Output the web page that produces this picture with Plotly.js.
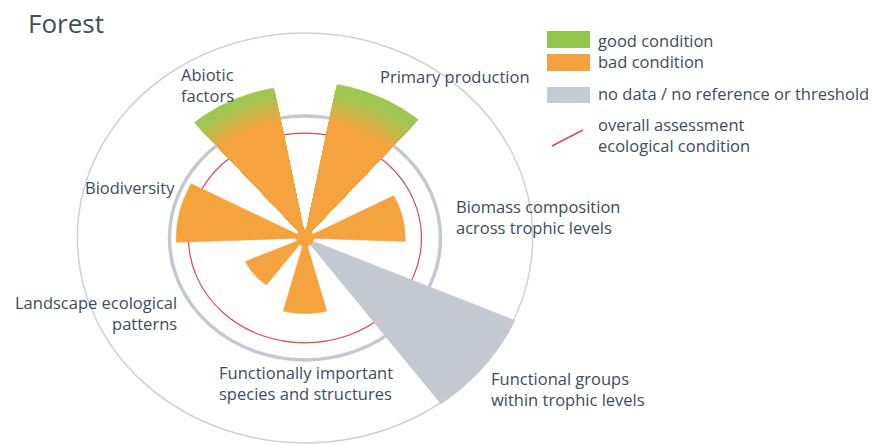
<!DOCTYPE html>
<html><head><meta charset="utf-8">
<script src="https://cdn.plot.ly/plotly-3.0.1.min.js"></script>
<style>html,body{margin:0;padding:0;background:#fff}#chart{width:872px;height:445px}</style>
</head><body><div id="chart"></div>
<script>
// ---- data ----
const categories = [
  'Functionally important\nspecies and structures',
  'Functional groups\nwithin trophic levels',
  'Biomass composition\nacross trophic levels',
  'Primary production',
  'Abiotic\nfactors',
  'Biodiversity',
  'Landscape ecological\npatterns'
];
const values = [0.62, 1.69, 0.74, 1.28, 1.25, 0.95, 0.48];
const conditions = ['bad', 'nodata', 'bad', 'good', 'good', 'bad', 'bad'];
const threshold = 1.0;
const overallAssessment = 0.86;
const outerScale = 1.68;
const legendLabels = ['good condition', 'bad condition', 'no data / no reference or threshold', 'overall assessment\necological condition'];
const chartTitle = 'Forest';

// ---- layout / style ----
const W = 872, H = 445, CX = 305, CY = 238, SX = 135.5, SY = 122;
const STEP = 360 / categories.length, START = 270, WIDTH = 30;
const ORANGE = [245, 163, 62], GREEN = [160, 198, 82], GRAY = '#c3c9d1';
const TXT = '#3e4d5a';
const FONT = 'Open Sans, sans-serif';
const rgb = c => `rgb(${c.map(Math.round).join(',')})`;
const lerp = (a, b, t) => a.map((v, i) => v + (b[i] - v) * t);

function wedge(k, r, color) {
  const c = START + k * STEP;
  const a0 = (c - WIDTH / 2) * Math.PI / 180, a1 = (c + WIDTH / 2) * Math.PI / 180;
  const xs = [0], ys = [0];
  for (let i = 0; i <= 40; i++) {
    const a = a0 + (a1 - a0) * i / 40;
    xs.push(r * Math.cos(a)); ys.push(r * Math.sin(a));
  }
  xs.push(0); ys.push(0);
  return {type: 'scatter', mode: 'lines', x: xs, y: ys, fill: 'toself', fillcolor: color,
    line: {width: 0.6, color: color}, hoverinfo: 'skip', showlegend: false};
}

const traces = [];
const G0 = 0.97, G1 = 1.2, NB = 24;
values.forEach((v, k) => {
  const cond = conditions[k];
  if (cond === 'nodata') { traces.push(wedge(k, v, GRAY)); return; }
  if (cond === 'good') {
    for (let j = 0; j <= NB; j++) {
      const r = v - j * (v - G0) / NB;
      const t = Math.max(0, Math.min(1, (r - G0) / (G1 - G0)));
      traces.push(wedge(k, r, rgb(lerp(ORANGE, GREEN, t))));
    }
    return;
  }
  traces.push(wedge(k, v, rgb(ORANGE)));
});

const px = x => x / W, py = y => 1 - y / H;
const shapes = [
  {type: 'circle', xref: 'x', yref: 'y', x0: -outerScale, x1: outerScale, y0: -outerScale, y1: outerScale, line: {color: '#cdd2da', width: 1.5}, layer: 'below'},
  {type: 'circle', xref: 'x', yref: 'y', x0: -threshold, x1: threshold, y0: -threshold, y1: threshold, line: {color: '#c3c9d2', width: 3.5}, layer: 'below'},
  {type: 'circle', xref: 'x', yref: 'y', x0: -overallAssessment, x1: overallAssessment, y0: -overallAssessment, y1: overallAssessment, line: {color: '#e64552', width: 1.2}, layer: 'below'},
  {type: 'circle', xref: 'x', yref: 'y', x0: -9 / SX, x1: 9 / SX, y0: -9 / SY, y1: 9 / SY, fillcolor: rgb(ORANGE), line: {width: 0}, layer: 'above'},
  // legend swatches
  {type: 'rect', xref: 'paper', yref: 'paper', x0: px(547), x1: px(590), y0: py(48), y1: py(31), fillcolor: '#93c84c', line: {width: 0}},
  {type: 'rect', xref: 'paper', yref: 'paper', x0: px(547), x1: px(590), y0: py(71), y1: py(54), fillcolor: '#f4a240', line: {width: 0}},
  {type: 'rect', xref: 'paper', yref: 'paper', x0: px(547), x1: px(590), y0: py(103), y1: py(87), fillcolor: '#c5cbd3', line: {width: 0}},
  {type: 'line', xref: 'paper', yref: 'paper', x0: px(552), x1: px(583), y0: py(146), y1: py(130), line: {color: '#e64552', width: 1.5}}
];

const annotations = [];
function addText(text, x, y, anchor, size) {
  annotations.push({text: text.split('\n').join('<br>'), xref: 'paper', yref: 'paper', x: px(x), y: py(y), xanchor: anchor, yanchor: 'middle',
    showarrow: false, align: anchor, font: {family: FONT, size: size || 16.5, color: TXT}});
}
// category label placements (centre of the text block): [x, y, anchor]
const labelPos = [[217, 383, 'left'], [489, 389, 'left'], [454, 217, 'left'], [378, 77, 'left'], [179, 85, 'left'], [83, 187, 'left'], [179, 313, 'right']];
categories.forEach((c, k) => {
  const [x, y, a] = labelPos[k];
  addText(c, x, y, a);
});
addText(chartTitle, 26, 23, 'left', 26);
const legY = [40, 62, 94, 135];
legendLabels.forEach((l, i) => addText(l, 596, legY[i], 'left'));

const layout = {
  width: W, height: H, margin: {l: 0, r: 0, t: 0, b: 0, pad: 0},
  paper_bgcolor: '#fff', plot_bgcolor: '#fff', showlegend: false,
  xaxis: {range: [-CX / SX, (W - CX) / SX], visible: false, fixedrange: true},
  yaxis: {range: [-(H - CY) / SY, CY / SY], visible: false, fixedrange: true},
  shapes: shapes, annotations: annotations
};
Plotly.newPlot('chart', traces, layout, {displayModeBar: false, staticPlot: true});
</script></body></html>
